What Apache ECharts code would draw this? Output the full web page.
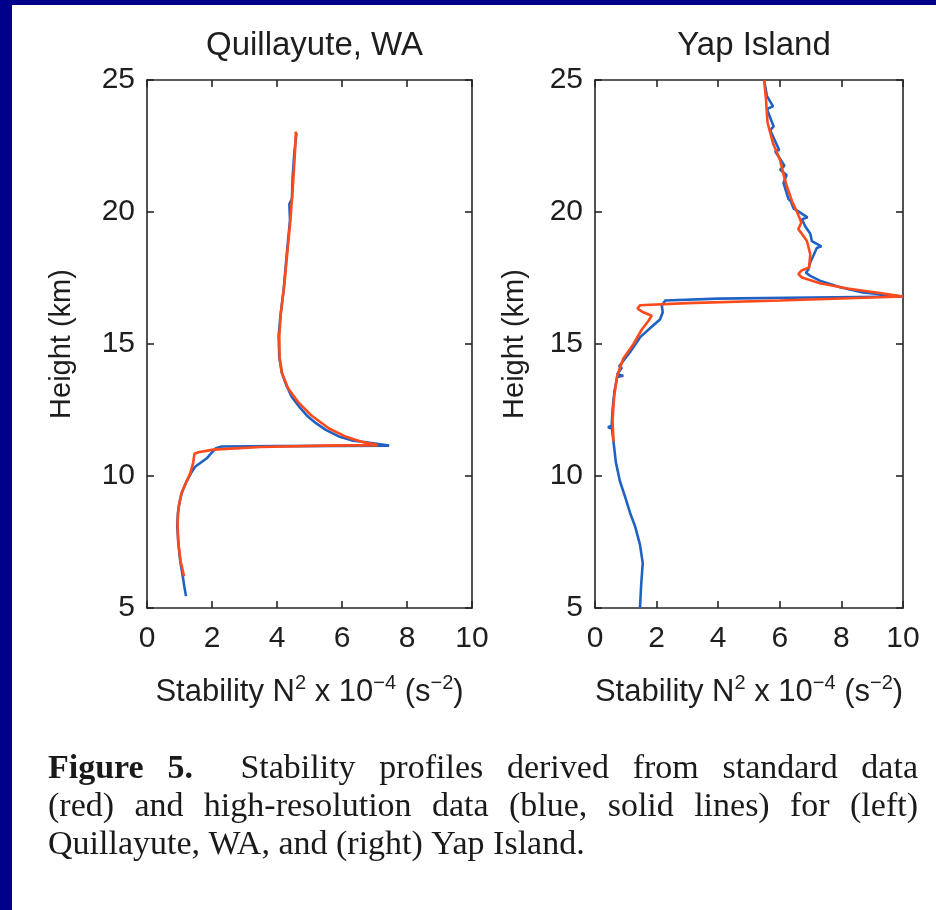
<!DOCTYPE html>
<html><head><meta charset="utf-8">
<script src="https://cdn.jsdelivr.net/npm/echarts@6/dist/echarts.min.js"></script>
<style>html,body{margin:0;padding:0;background:#fff}#c{width:936px;height:910px}</style>
</head><body><div id="c"></div><script>
// ---- Data (N^2 x 1e-4 s^-2 vs height km) ----
const titles = ['Quillayute, WA', 'Yap Island'];
const xTicks = [0, 2, 4, 6, 8, 10];
const yTicks = [5, 10, 15, 20, 25];

const quillBlueH  = [5.45,5.8,6.2,6.8,7.4,8.1,8.6,9.0,9.4,9.8,10.1,10.35,10.67,10.9,11.05,11.12,11.13,11.14,11.15,11.25,11.35,11.5,11.75,12.0,12.25,12.6,13.0,13.4,13.9,14.5,15.3,16.0,17.0,18.4,19.7,20.3,20.5,21.3,22.2,23.0];
const quillBlueN2 = [1.2,1.15,1.1,1.02,0.97,0.93,0.95,1.0,1.08,1.22,1.35,1.48,1.84,2.0,2.12,2.3,4.0,6.0,7.45,6.9,6.3,5.9,5.5,5.2,4.95,4.7,4.45,4.3,4.15,4.07,4.05,4.1,4.2,4.3,4.4,4.38,4.46,4.48,4.53,4.6];

const quillRedH  = [6.2,6.8,7.5,8.2,8.8,9.3,9.7,10.1,10.5,10.84,10.9,11.0,11.1,11.15,11.17,11.3,11.5,11.8,12.3,12.8,13.3,13.9,14.5,15.3,16.2,17.2,18.5,19.8,21.2,22.2,23.05];
const quillRedN2 = [1.14,1.03,0.96,0.94,0.97,1.05,1.18,1.33,1.42,1.46,1.58,2.04,3.5,5.5,7.1,6.6,6.1,5.6,5.05,4.65,4.35,4.15,4.08,4.07,4.12,4.22,4.32,4.42,4.5,4.55,4.58];

const yapBlueH  = [5.0,5.9,6.7,7.4,8.1,8.6,9.2,9.8,10.5,11.3,11.8,11.85,11.9,12.5,13.2,13.75,13.8,13.85,14.1,14.15,14.7,15.25,15.65,15.93,16.2,16.45,16.65,16.72,16.76,16.8,16.95,17.15,17.4,17.58,17.7,17.83,18.1,18.37,18.64,18.7,18.9,19.18,19.45,19.72,19.8,20.06,20.13,20.4,20.5,21.1,21.4,21.6,21.75,22.3,22.35,23.1,23.24,23.9,24.0,24.4,25.0];
const yapBlueN2 = [1.46,1.5,1.55,1.46,1.3,1.14,0.98,0.81,0.68,0.6,0.55,0.42,0.54,0.57,0.63,0.72,0.92,0.72,0.87,0.78,1.14,1.46,1.84,2.11,2.2,2.17,2.28,4.0,7.0,10.0,8.7,7.96,7.3,6.99,6.85,6.93,6.99,7.1,7.2,7.35,7.04,6.99,6.83,6.72,6.9,6.55,6.45,6.36,6.28,6.12,6.22,6.01,6.15,5.85,5.98,5.69,5.8,5.58,5.78,5.58,5.49];

const yapRedH  = [25.0,24.3,23.4,22.6,22.0,21.3,20.9,20.4,20.0,19.6,19.35,19.2,18.9,18.4,17.9,17.78,17.65,17.52,17.3,17.1,16.92,16.8,16.65,16.55,16.47,16.34,16.2,16.07,15.85,15.55,15.0,14.45,13.8,13.0,12.1,11.3];
const yapRedN2 = [5.49,5.55,5.6,5.78,6.0,6.15,6.25,6.4,6.56,6.7,6.6,6.7,6.88,6.99,6.95,6.7,6.6,6.72,7.3,8.2,9.3,10.0,6.0,3.0,1.46,1.38,1.57,1.84,1.72,1.52,1.25,0.92,0.72,0.62,0.57,0.6];

const xNameParts = ['Stability N', '2', ' x 10', '−4', ' (s', '−2', ')'];
const captionLines = [
  [['Figure', 'b'], ['5.', 'b'], ['', 'gap'], ['Stability'], ['profiles'], ['derived'], ['from'], ['standard'], ['data']],
  [['(red)'], ['and'], ['high-resolution'], ['data'], ['(blue,'], ['solid'], ['lines)'], ['for'], ['(left)']],
  [['Quillayute,'], ['WA,'], ['and'], ['(right)'], ['Yap'], ['Island.']]
];

// ---- Layout / style ----
const BLUE = '#1f62c4', RED = '#ff4a1c', AX = '#262626', TXT = '#1e1e1e';
const SANS = '"Liberation Sans", Arial, sans-serif';
const SERIF = '"Liberation Serif", "Times New Roman", serif';
const grids = [
  {left: 147, top: 80, width: 325, height: 528},
  {left: 595, top: 80, width: 308, height: 528}
];
const yNameGaps = [71, 66];
const pair = (xs, ys) => xs.map((v, i) => [v, ys[i]]);

const xName = xNameParts.map((p, i) => (i % 2 ? '{s|' : '{n|') + p + '}').join('');
const nameRich = {
  n: {fontSize: 31, fontFamily: SANS, color: TXT, verticalAlign: 'bottom', lineHeight: 34},
  s: {fontSize: 20, fontFamily: SANS, color: TXT, verticalAlign: 'bottom', padding: [0, 0, 15, 0], lineHeight: 20}
};
const lineAx = {show: true, onZero: false, lineStyle: {color: AX, width: 1.6}};
const tickAx = {show: true, inside: true, length: 7, lineStyle: {color: AX, width: 1.6}};

const xAxis = [], yAxis = [];
grids.forEach((g, gi) => {
  const base = {gridIndex: gi, type: 'value', min: xTicks[0], max: xTicks[xTicks.length - 1], interval: xTicks[1] - xTicks[0], splitLine: {show: false}, axisLine: lineAx, axisTick: tickAx};
  xAxis.push(Object.assign({}, base, {position: 'bottom',
    axisLabel: {fontSize: 30, color: TXT, fontFamily: SANS, margin: 16},
    name: xName, nameLocation: 'middle', nameGap: 66, nameTextStyle: {rich: nameRich}}));
  xAxis.push(Object.assign({}, base, {position: 'top', axisLabel: {show: false}}));
  const ybase = {gridIndex: gi, type: 'value', min: yTicks[0], max: yTicks[yTicks.length - 1], interval: yTicks[1] - yTicks[0], splitLine: {show: false}, axisLine: lineAx, axisTick: tickAx};
  yAxis.push(Object.assign({}, ybase, {position: 'left',
    axisLabel: {fontSize: 30, color: TXT, fontFamily: SANS, margin: 12},
    name: 'Height (km)', nameLocation: 'middle', nameGap: yNameGaps[gi],
    nameTextStyle: {fontSize: 29, fontFamily: SANS, color: TXT}}));
  yAxis.push(Object.assign({}, ybase, {position: 'right', axisLabel: {show: false}}));
});

const mk = (gi, xs, ys, color) => ({type: 'line', xAxisIndex: gi * 2, yAxisIndex: gi * 2, data: pair(xs, ys),
  symbol: 'none', smooth: false, lineStyle: {color: color, width: 2.6}, silent: true, animation: false, clip: true});

// ---- Caption layout (justified) ----
const ctx = document.createElement('canvas').getContext('2d');
const CAP_SIZE = 34, CAP_X0 = 48, CAP_X1 = 918, CAP_Y = [769, 807, 845];
const graphic = [
  {type: 'rect', shape: {x: 0, y: 0, width: 936, height: 5}, style: {fill: '#00008b'}},
  {type: 'rect', shape: {x: 0, y: 0, width: 12, height: 910}, style: {fill: '#00008b'}}
];
captionLines.forEach((words, li) => {
  const items = words.filter(w => w[1] !== 'gap').map(w => {
    const font = (w[1] === 'b' ? 'bold ' : '') + CAP_SIZE + 'px ' + SERIF;
    ctx.font = font;
    return {t: w[0], font: font, w: ctx.measureText(w[0]).width};
  });
  const gapsWeights = [];
  for (let i = 0, k = 0; i < words.length; i++) {
    if (words[i][1] === 'gap') { gapsWeights[k - 1] = (gapsWeights[k - 1] || 1) + 1; continue; }
    if (k > 0 && gapsWeights[k - 1] === undefined) gapsWeights[k - 1] = 1;
    k++;
  }
  const total = items.reduce((a, b) => a + b.w, 0);
  const wsum = gapsWeights.reduce((a, b) => a + b, 0);
  const justify = li < captionLines.length - 1;
  ctx.font = CAP_SIZE + 'px ' + SERIF;
  const unit = justify ? (CAP_X1 - CAP_X0 - total) / wsum : ctx.measureText(' ').width;
  let x = CAP_X0;
  items.forEach((it, i) => {
    graphic.push({type: 'text', x: x, y: CAP_Y[li], style: {text: it.t, font: it.font, fill: '#1a1a1a', align: 'left', verticalAlign: 'middle'}});
    x += it.w + (gapsWeights[i] || 0) * unit;
  });
});

const chart = echarts.init(document.getElementById('c'), null, {renderer: 'canvas'});
chart.setOption({
  backgroundColor: '#ffffff',
  animation: false,
  title: titles.map((t, i) => ({text: t, left: grids[i].left + grids[i].width / 2, top: 24, textAlign: 'center',
    textStyle: {fontSize: 33, fontWeight: 'normal', fontFamily: SANS, color: TXT}})),
  grid: grids,
  xAxis: xAxis,
  yAxis: yAxis,
  series: [
    mk(0, quillBlueN2, quillBlueH, BLUE),
    mk(0, quillRedN2, quillRedH, RED),
    mk(1, yapBlueN2, yapBlueH, BLUE),
    mk(1, yapRedN2, yapRedH, RED)
  ],
  graphic: graphic
});
</script></body></html>
